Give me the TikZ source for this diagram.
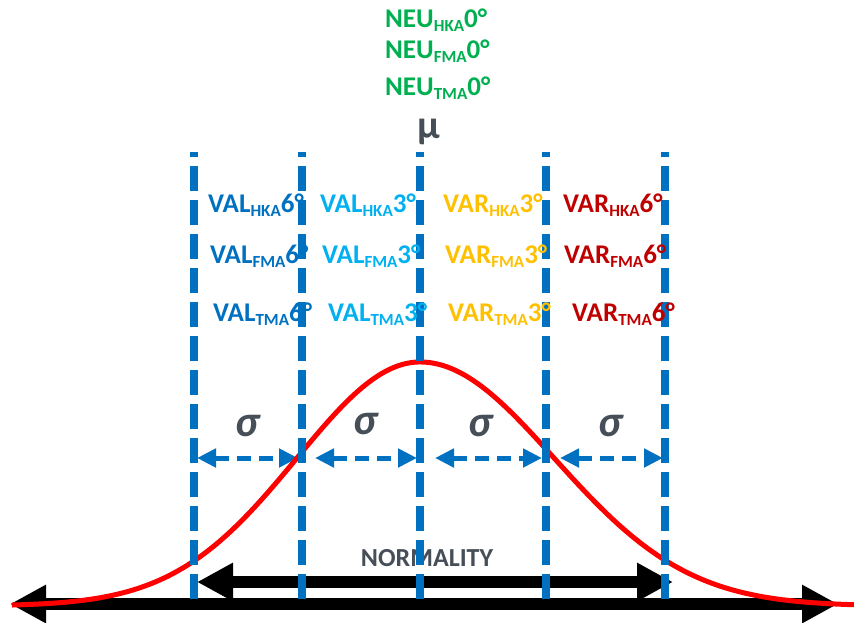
\documentclass[tikz,border=0pt]{standalone}
\usepackage{fontspec}
\setmainfont{Carlito}
\usetikzlibrary{arrows.meta, positioning}
\definecolor{lineblue}{RGB}{0,112,192}
\definecolor{skyblue}{RGB}{0,176,240}
\definecolor{amber}{RGB}{255,192,0}
\definecolor{darkred}{RGB}{192,0,0}
\definecolor{neugreen}{RGB}{0,176,80}
\definecolor{textgray}{RGB}{70,78,88}
\newcommand{\alab}[3]{#1\raisebox{-4pt}{\fontsize{17}{17}\selectfont #2}#3°}

\begin{document}
\begin{tikzpicture}[x=1pt, y=-1pt,
  vline/.style={lineblue, line width=8pt, dash pattern=on 25pt off 9pt, dash phase=20pt},
  sarrow/.style={lineblue, line width=5pt, dash pattern=on 14pt off 8pt,
    {Triangle[length=19pt,width=18pt]}-{Triangle[length=19pt,width=18pt]}},
  barrow/.style={black, line width=12pt,
    {Triangle[length=36pt,width=36pt]}-{Triangle[length=36pt,width=36pt]}},
  lab/.style={anchor=base west, inner sep=0pt, font=\fontsize{27}{30}\selectfont\bfseries},
  sig/.style={textgray, inner sep=0pt, font=\fontsize{44}{44}\selectfont\bfseries\itshape},
]
\useasboundingbox (0,0) rectangle (854,622);

% column lines
\foreach \i/\x in {1/194, 2/302, 3/420, 4/546, 5/665} {
  \coordinate (top\i) at (\x,152);
  \coordinate (bot\i) at (\x,607);
}
\coordinate (axl) at (10,604);
\coordinate (axr) at (838,604);
\coordinate (nml) at (197,582);
\coordinate (nmr) at (673,582);

% normality arrows
\draw[barrow] (axl) -- (axr);
\draw[barrow] (nml) -- (nmr);
\node[textgray, font=\fontsize{26}{28}\selectfont\bfseries, anchor=base] (norm) at (427,566) {NORMALITY};

% sigma spans
\draw[sarrow] (197,458) coordinate (s1a) -- (298,458) coordinate (s1b);
\draw[sarrow] (315,458) coordinate (s2a) -- (417,458) coordinate (s2b);
\draw[sarrow] (435,458) coordinate (s3a) -- (542,458) coordinate (s3b);
\draw[sarrow] (560,458) coordinate (s4a) -- (663,458) coordinate (s4b);
\node[sig] (sig1) at (247,426) {σ};
\node[sig] (sig2) at (365,424) {σ};
\node[sig] (sig3) at (480,426) {σ};
\node[sig] (sig4) at (610,426) {σ};

% bell curve
\draw[red, line width=5pt] plot[domain=12:854, samples=140, smooth]
  (\x, {606-244*exp(-((\x-420)/(\x<420 ? 123 : 134))^2/2)});

\foreach \i in {1,...,5}
  \draw[vline] (top\i) -- (bot\i);

% labels
\node[lab, neugreen] (neuh) at (385,27) {\alab{NEU}{HKA}{0}};
\node[lab, neugreen] (neuf) at (385,58) {\alab{NEU}{FMA}{0}};
\node[lab, neugreen] (neut) at (385,95) {\alab{NEU}{TMA}{0}};
\node[textgray, font=\fontsize{40}{40}\selectfont\bfseries, anchor=base] (mu) at (429,138) {µ};

\node[lab, lineblue] (valh6) at (208,212) {\alab{VAL}{HKA}{6}};
\node[lab, lineblue] (valf6) at (210,263) {\alab{VAL}{FMA}{6}};
\node[lab, lineblue] (valt6) at (213,321) {\alab{VAL}{TMA}{6}};
\node[lab, skyblue] (valh3) at (320,212) {\alab{VAL}{HKA}{3}};
\node[lab, skyblue] (valf3) at (322,263) {\alab{VAL}{FMA}{3}};
\node[lab, skyblue] (valt3) at (328,321) {\alab{VAL}{TMA}{3}};
\node[lab, amber] (varh3) at (443,212) {\alab{VAR}{HKA}{3}};
\node[lab, amber] (varf3) at (445,263) {\alab{VAR}{FMA}{3}};
\node[lab, amber] (vart3) at (448,321) {\alab{VAR}{TMA}{3}};
\node[lab, darkred] (varh6) at (563,212) {\alab{VAR}{HKA}{6}};
\node[lab, darkred] (varf6) at (564,263) {\alab{VAR}{FMA}{6}};
\node[lab, darkred] (vart6) at (572,321) {\alab{VAR}{TMA}{6}};
\end{tikzpicture}
\end{document}
